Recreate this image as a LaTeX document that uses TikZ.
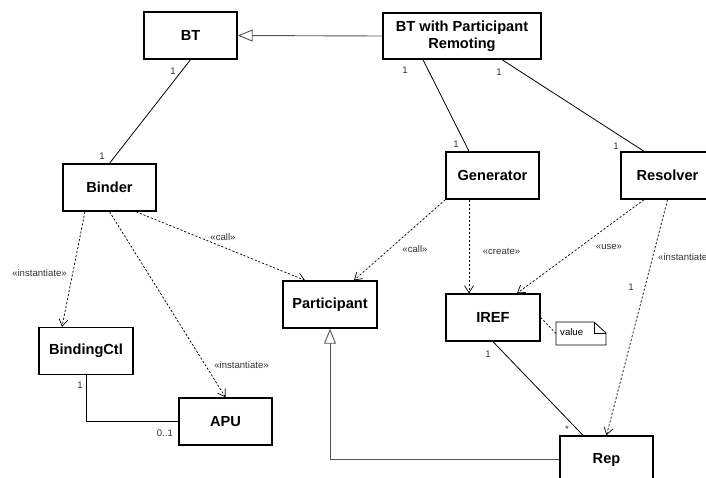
\documentclass[tikz,border=0pt]{standalone}
\usepackage{fontspec}
\setmainfont{Liberation Sans}
\usetikzlibrary{arrows.meta,shapes.multipart,shapes.misc,calc}
\definecolor{labelgray}{HTML}{333333}
\definecolor{genline}{HTML}{555555}

\begin{document}
\begin{tikzpicture}[x=1pt, y=-1pt,
    cls/.style={draw, line width=1.4pt, fill=white, minimum width=93pt, minimum height=47pt,
      inner sep=0pt, align=center, font=\fontsize{14.6}{17}\selectfont\bfseries},
    lbl/.style={text=labelgray, inner sep=0pt, font=\fontsize{9.6}{11}\selectfont},
    assoc/.style={line width=0.8pt},
    depend/.style={line width=0.7pt, dash pattern=on 2.2pt off 1.8pt, -{Straight Barb[length=7pt, width=9pt]}},
    inherit/.style={line width=0.9pt, genline, -{Triangle[open, length=15pt, width=12pt, fill=white]}}]
  \clip (0,0) rectangle (706,477);
  \fill[white] (0,0) rectangle (706,477);

  % classes
  \node[cls] (bt) at (190.5,35.5) {BT};
  \node[cls, minimum width=158pt, minimum height=46pt] (btpr) at (462,36) {BT with Participant\\Remoting};
  \node[cls] (binder) at (109.5,187.5) {Binder};
  \node[cls] (gen) at (492.5,175.5) {Generator};
  \node[cls] (res) at (667.5,175.5) {Resolver};
  \node[cls, minimum width=94pt] (part) at (330,304.5) {Participant};
  \node[cls, minimum width=94pt] (bctl) at (86,351) {BindingCtl};
  \node[cls] (apu) at (225.5,421.5) {APU};
  \node[cls, minimum width=94pt] (iref) at (493,317.5) {IREF};
  \node[cls] (rep) at (606.5,459.5) {Rep};

  % note attached to IREF
  \coordinate (nNW) at (556,322);
  \coordinate (nSE) at (606,345);
  \draw[line width=0.8pt] (nNW) -- (594,322) -- (606,333) -- (nSE) -- (556,345) -- cycle;
  \draw[line width=0.8pt] (594,322) -- (594,333) -- (606,333);
  \node[lbl, text=black, anchor=west] (note) at (560,332) {value};
  \draw[line width=0.7pt, dash pattern=on 2pt off 2pt] (iref.east) -- (556,333.5);

  % generalizations
  \draw[inherit] (btpr.west) -- (bt.east);
  \draw[inherit] (rep.west) -| (part.south);

  % associations
  \draw[assoc] (bt.south) -- (binder.north);
  \draw[assoc] ([xshift=-39pt]btpr.south) -- ([xshift=-23.5pt]gen.north);
  \draw[assoc] ([xshift=40pt]btpr.south) -- ([xshift=-23.5pt]res.north);
  \draw[assoc] (iref.south) -- ([xshift=-23.5pt]rep.north);
  \draw[assoc] (bctl.south) |- (apu.west);

  % dependencies
  \draw[depend] ([xshift=26.5pt]binder.south) -- ([xshift=-25pt]part.north);
  \draw[depend] ([xshift=-24.5pt]binder.south) -- ([xshift=-24pt]bctl.north);
  \draw[depend] (binder.south) -- (apu.north);
  \draw[depend] (gen.south west) -- ([xshift=24pt]part.north);
  \draw[depend] ([xshift=-23.5pt]gen.south) -- ([xshift=-24pt]iref.north);
  \draw[depend] ([xshift=-23.5pt]res.south) -- ([xshift=24pt]iref.north);
  \draw[depend] (res.south) -- (rep.north);

  % stereotypes
  \node[lbl] (s1) at (223,237) {«call»};
  \node[lbl] (s2) at (39.5,273) {«instantiate»};
  \node[lbl] (s3) at (241.5,365) {«instantiate»};
  \node[lbl] (s4) at (415,249) {«call»};
  \node[lbl] (s5) at (501.5,251) {«create»};
  \node[lbl] (s6) at (609,247) {«use»};
  \node[lbl, anchor=west] (s7) at (658,257) {«instantiate»};

  % multiplicities
  \node[lbl] (m1) at (173,71) {1};
  \node[lbl] (m2) at (102,156) {1};
  \node[lbl] (m3) at (405,70) {1};
  \node[lbl] (m4) at (499,72) {1};
  \node[lbl] (m5) at (456,144) {1};
  \node[lbl] (m6) at (616,146) {1};
  \node[lbl] (m7) at (631,287) {1};
  \node[lbl] (m8) at (488,354) {1};
  \node[lbl] (m9) at (567,429) {*};
  \node[lbl] (m10) at (80,385) {1};
  \node[lbl] (m11) at (165,433) {0..1};
\end{tikzpicture}
\end{document}
